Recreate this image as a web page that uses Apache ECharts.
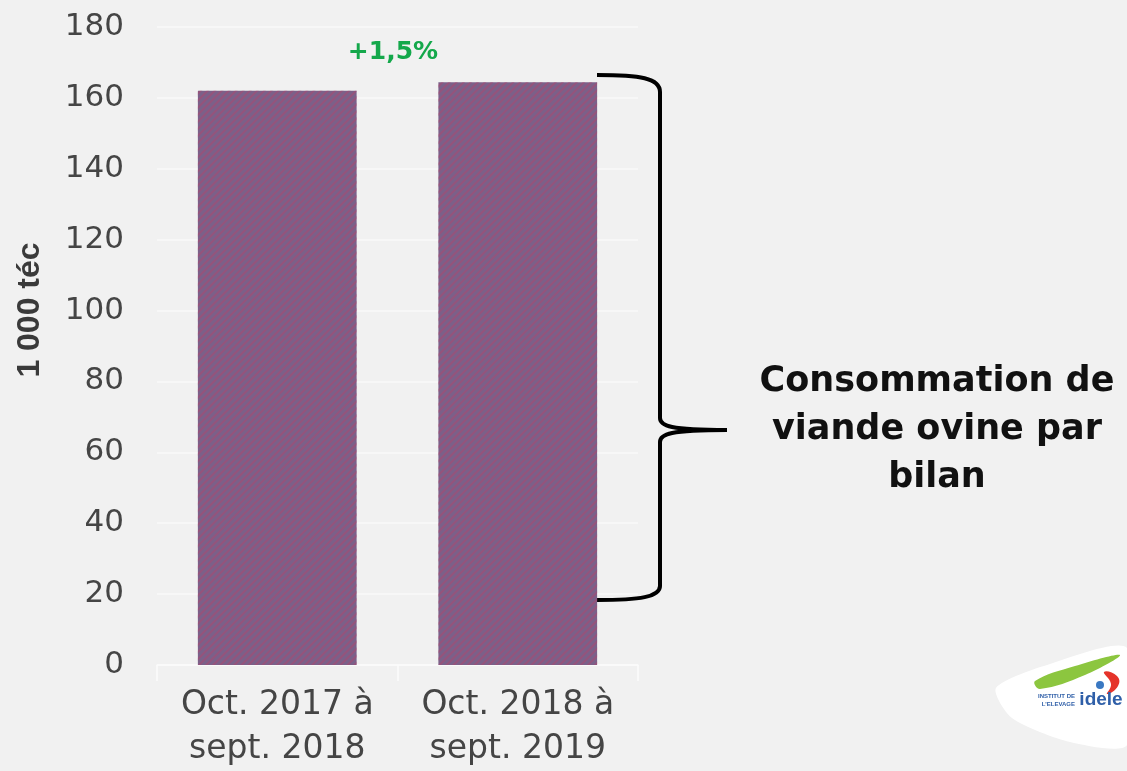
<!DOCTYPE html>
<html><head><meta charset="utf-8">
<script src="https://cdn.jsdelivr.net/npm/echarts@6/dist/echarts.min.js"></script>
<style>html,body{margin:0;padding:0;background:#f1f1f1}#c{width:1127px;height:771px}</style>
</head><body><div id="c"></div>
<script>
const categories = ['Oct. 2017 à\nsept. 2018', 'Oct. 2018 à\nsept. 2019'];
const consommation = [162.0, 164.4];
const yTicks = [0, 20, 40, 60, 80, 100, 120, 140, 160, 180];
const yName = '1 000 téc';
const variation = '+1,5%';
const annotation = 'Consommation de\nviande ovine par\nbilan';

const braceStyle = {stroke: '#000', lineWidth: 4, fill: 'none'};
function bz(x1, y1, c1x, c1y, c2x, c2y, x2, y2) {
  return {type: 'bezierCurve', shape: {x1, y1, cpx1: c1x, cpy1: c1y, cpx2: c2x, cpy2: c2y, x2, y2}, style: braceStyle};
}
function ln(x1, y1, x2, y2) {
  return {type: 'line', shape: {x1, y1, x2, y2}, style: braceStyle};
}

const chart = echarts.init(document.getElementById('c'));
chart.setOption({
  backgroundColor: '#f1f1f1',
  animation: false,
  grid: {left: 157, right: 489, top: 27, bottom: 106},
  xAxis: {
    type: 'category', data: categories,
    axisLine: {lineStyle: {color: '#fbfbfb', width: 1.5}},
    axisTick: {show: true, length: 16, lineStyle: {color: '#fbfbfb', width: 1.5}},
    axisLabel: {interval: 0, hideOverlap: false, color: '#454545', fontSize: 33, fontFamily: 'DejaVu Sans', lineHeight: 44, margin: 18}
  },
  yAxis: {
    type: 'value', min: yTicks[0], max: yTicks[yTicks.length - 1], interval: 20,
    axisLine: {show: false}, axisTick: {show: false},
    splitLine: {lineStyle: {color: '#f9f9f9', width: 1.5}},
    axisLabel: {color: '#454545', fontSize: 31, fontFamily: 'DejaVu Sans', margin: 33}
  },
  series: [{
    type: 'bar', data: consommation, barWidth: '66%',
    itemStyle: {
      color: '#7b6089',
      decal: {symbol: 'rect', dashArrayX: [1, 0], dashArrayY: [2, 3], rotation: -Math.PI / 4, color: 'rgba(175,70,110,0.5)'}
    }
  }],
  graphic: [
    {type: 'text', x: 30, y: 310, rotation: Math.PI / 2, style: {text: yName, font: 'bold 32px "Liberation Sans"', fill: '#3a3a3a', textAlign: 'center', textVerticalAlign: 'middle'}},
    {type: 'text', x: 393, y: 52, style: {text: variation, font: 'bold 25px "DejaVu Sans"', fill: '#14a84b', textAlign: 'center', textVerticalAlign: 'middle'}},
    bz(597, 75, 640, 75, 660, 78, 660, 92),
    ln(660, 92, 660, 418),
    bz(660, 418, 660, 426, 670, 430, 727, 430),
    bz(727, 430, 670, 430, 660, 434, 660, 442),
    ln(660, 442, 660, 586),
    bz(660, 586, 660, 597, 640, 600, 597, 600),
    {type: 'text', x: 937, y: 430, style: {text: annotation, font: 'bold 35px "DejaVu Sans"', fill: '#111111', textAlign: 'center', textVerticalAlign: 'middle', lineHeight: 48}},
    {type: 'polygon', shape: {smooth: 0.25, points: [[996, 688], [1050, 664], [1127, 648], [1127, 745], [1070, 742], [1012, 718]]}, style: {fill: '#ffffff'}},
    {type: 'polygon', shape: {smooth: 0.4, points: [[1035, 681], [1075, 666], [1120, 655], [1085, 675], [1040, 689]]}, style: {fill: '#8cc63f'}},
    {type: 'polygon', shape: {smooth: 0.5, points: [[1104, 672], [1117, 676], [1118, 686], [1107, 694], [1111, 684]]}, style: {fill: '#e5332a'}},
    {type: 'circle', shape: {cx: 1100, cy: 685, r: 4}, style: {fill: '#3a78c2'}},
    {type: 'text', x: 1075, y: 700, style: {text: 'INSTITUT DE\nL\'ELEVAGE', font: 'bold 6px "Liberation Sans"', fill: '#2f5fa8', textAlign: 'right', textVerticalAlign: 'middle', lineHeight: 8}},
    {type: 'text', x: 1101, y: 700, style: {text: 'idele', font: 'bold 19px "Liberation Sans"', fill: '#2f5fa8', textAlign: 'center', textVerticalAlign: 'middle'}}
  ]
});
</script></body></html>
